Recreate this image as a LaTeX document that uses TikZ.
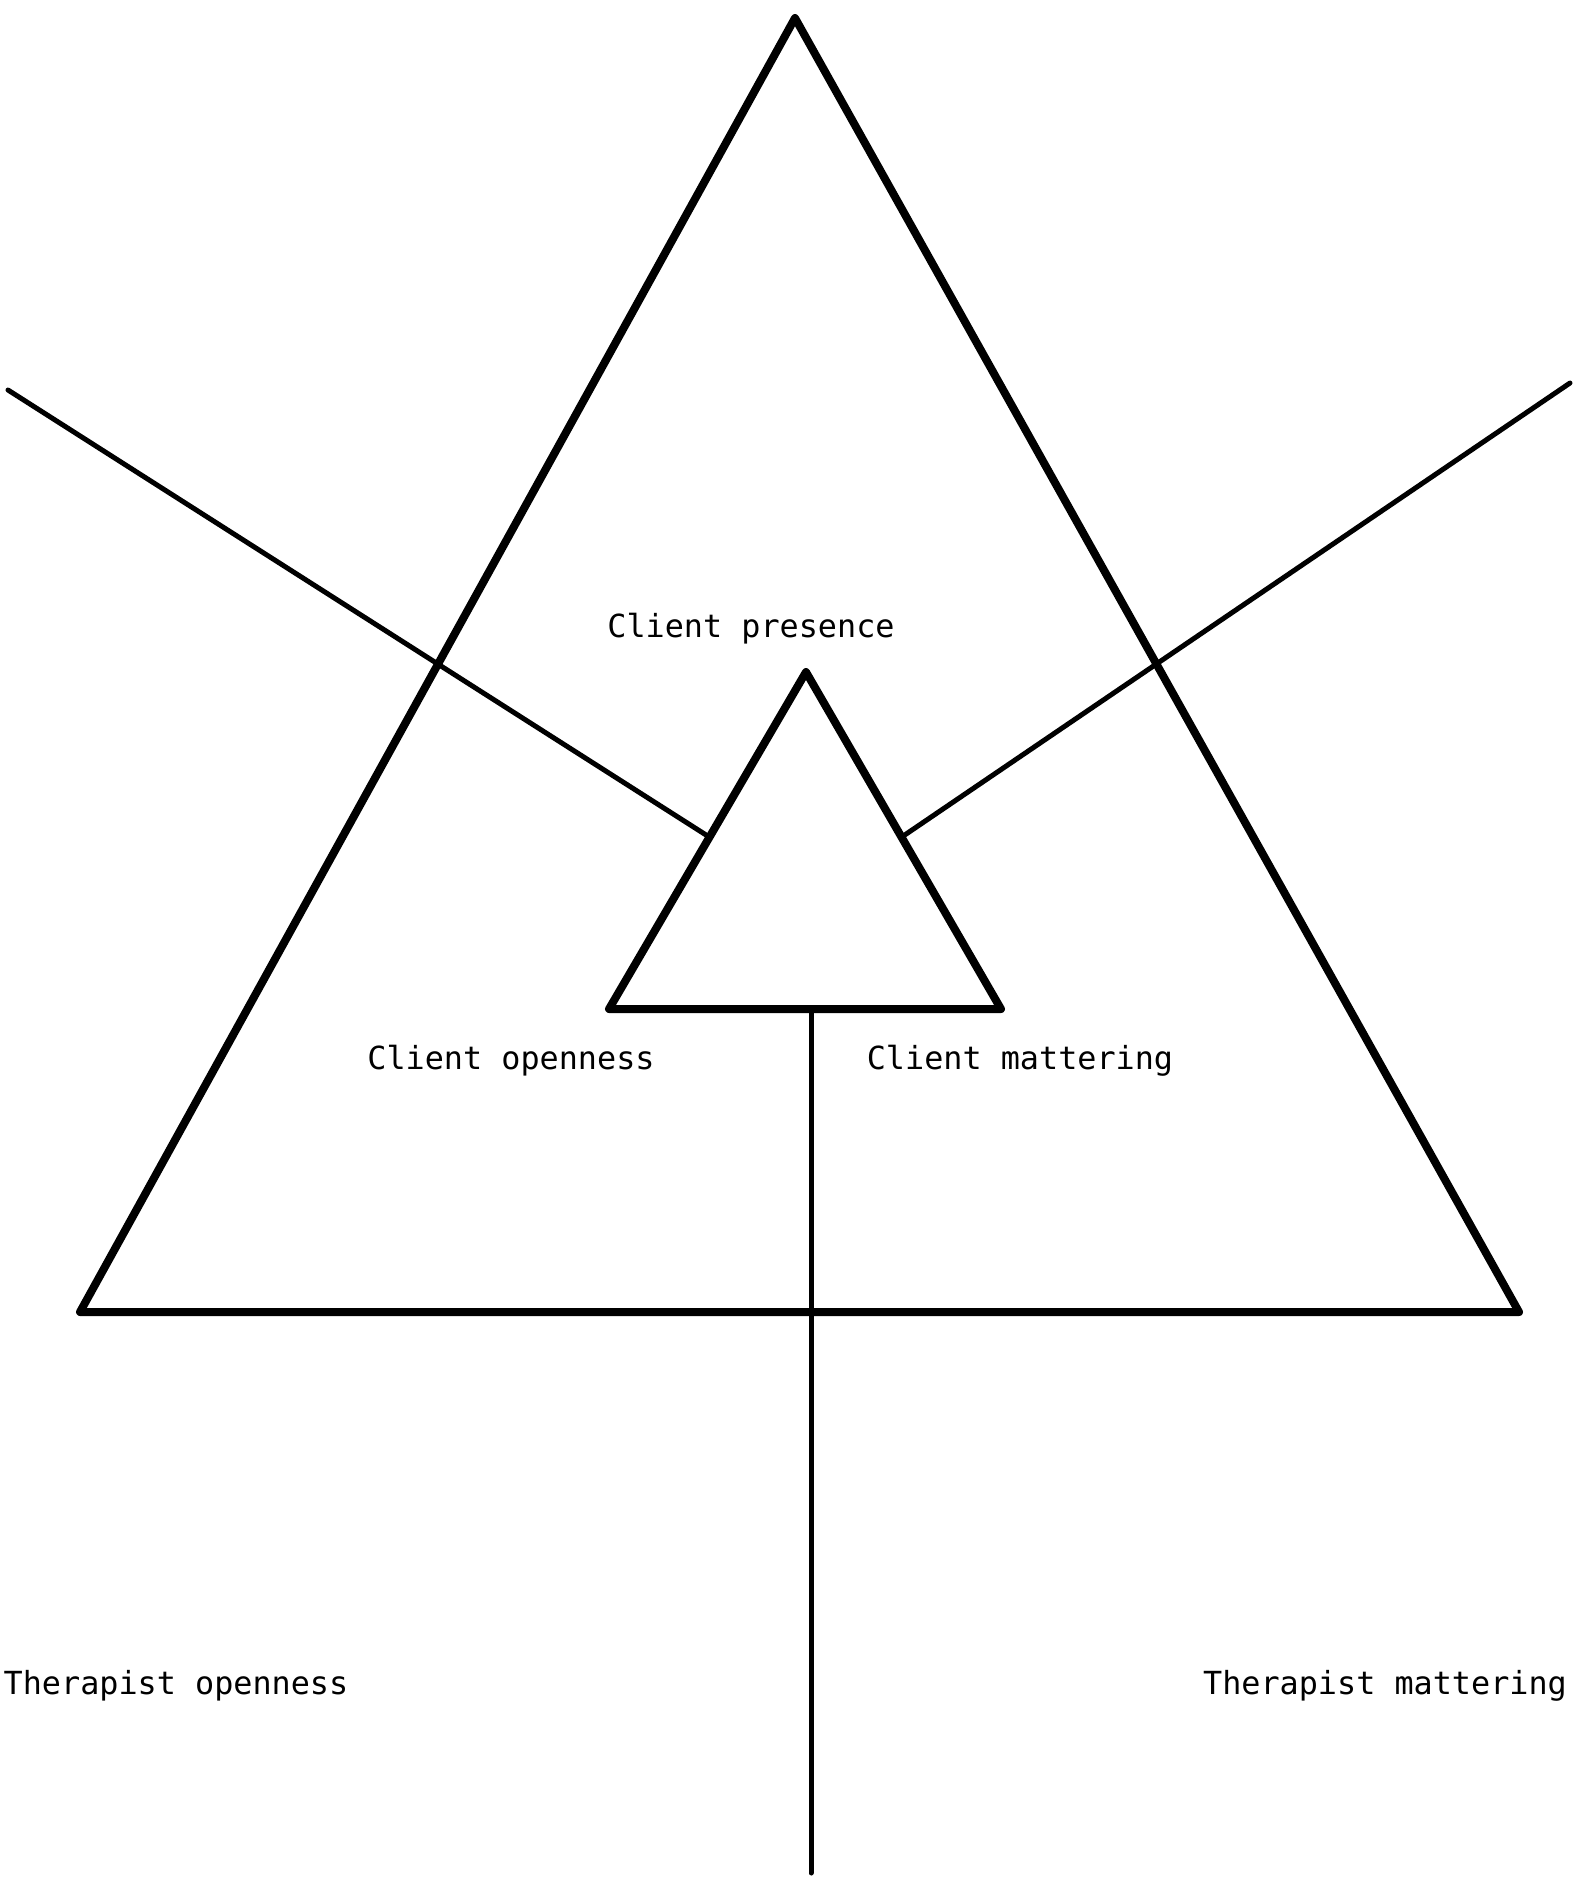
\documentclass[tikz,border=0pt]{standalone}
\usepackage{fontspec}
\setmonofont{DejaVu Sans Mono}
\usetikzlibrary{calc}

\begin{document}
\begin{tikzpicture}[
    x=0.5pt, y=-0.5pt,
    font=\ttfamily\fontsize{15.9}{18}\selectfont,
    heavy/.style={draw, line width=4pt, line join=round, line cap=round},
    thin/.style={draw, line width=2.5pt, line cap=round},
    label/.style={inner sep=0pt, anchor=base}
]
    \useasboundingbox (0,0) rectangle (1583,1881);

    % outer triangle
    \coordinate (otop) at (795,18);
    \coordinate (oleft) at (80,1312);
    \coordinate (oright) at (1519,1312);
    % inner triangle
    \coordinate (itop) at (806,672);
    \coordinate (ileft) at (609,1009);
    \coordinate (iright) at (1001,1009);

    \coordinate (lend) at (8,390);
    \coordinate (rend) at (1570,383);
    \coordinate (stem) at (811,1011);
    \coordinate (foot) at (811,1873);

    \draw[thin] (lend) -- ($(itop)!0.49!(ileft)$);
    \draw[thin] (rend) -- ($(itop)!0.49!(iright)$);
    \draw[thin] (stem) -- (foot);

    \draw[heavy] (otop) -- (oleft) -- (oright) -- cycle;
    \draw[heavy] (itop) -- (ileft) -- (iright) -- cycle;

    \node[label] (presence) at (751,637) {Client presence};
    \node[label] (copen) at (511,1069) {Client openness};
    \node[label] (cmatter) at (1020,1069) {Client mattering};
    \node[label] (topen) at (176,1694) {Therapist openness};
    \node[label] (tmatter) at (1385,1694) {Therapist mattering};
\end{tikzpicture}
\end{document}
